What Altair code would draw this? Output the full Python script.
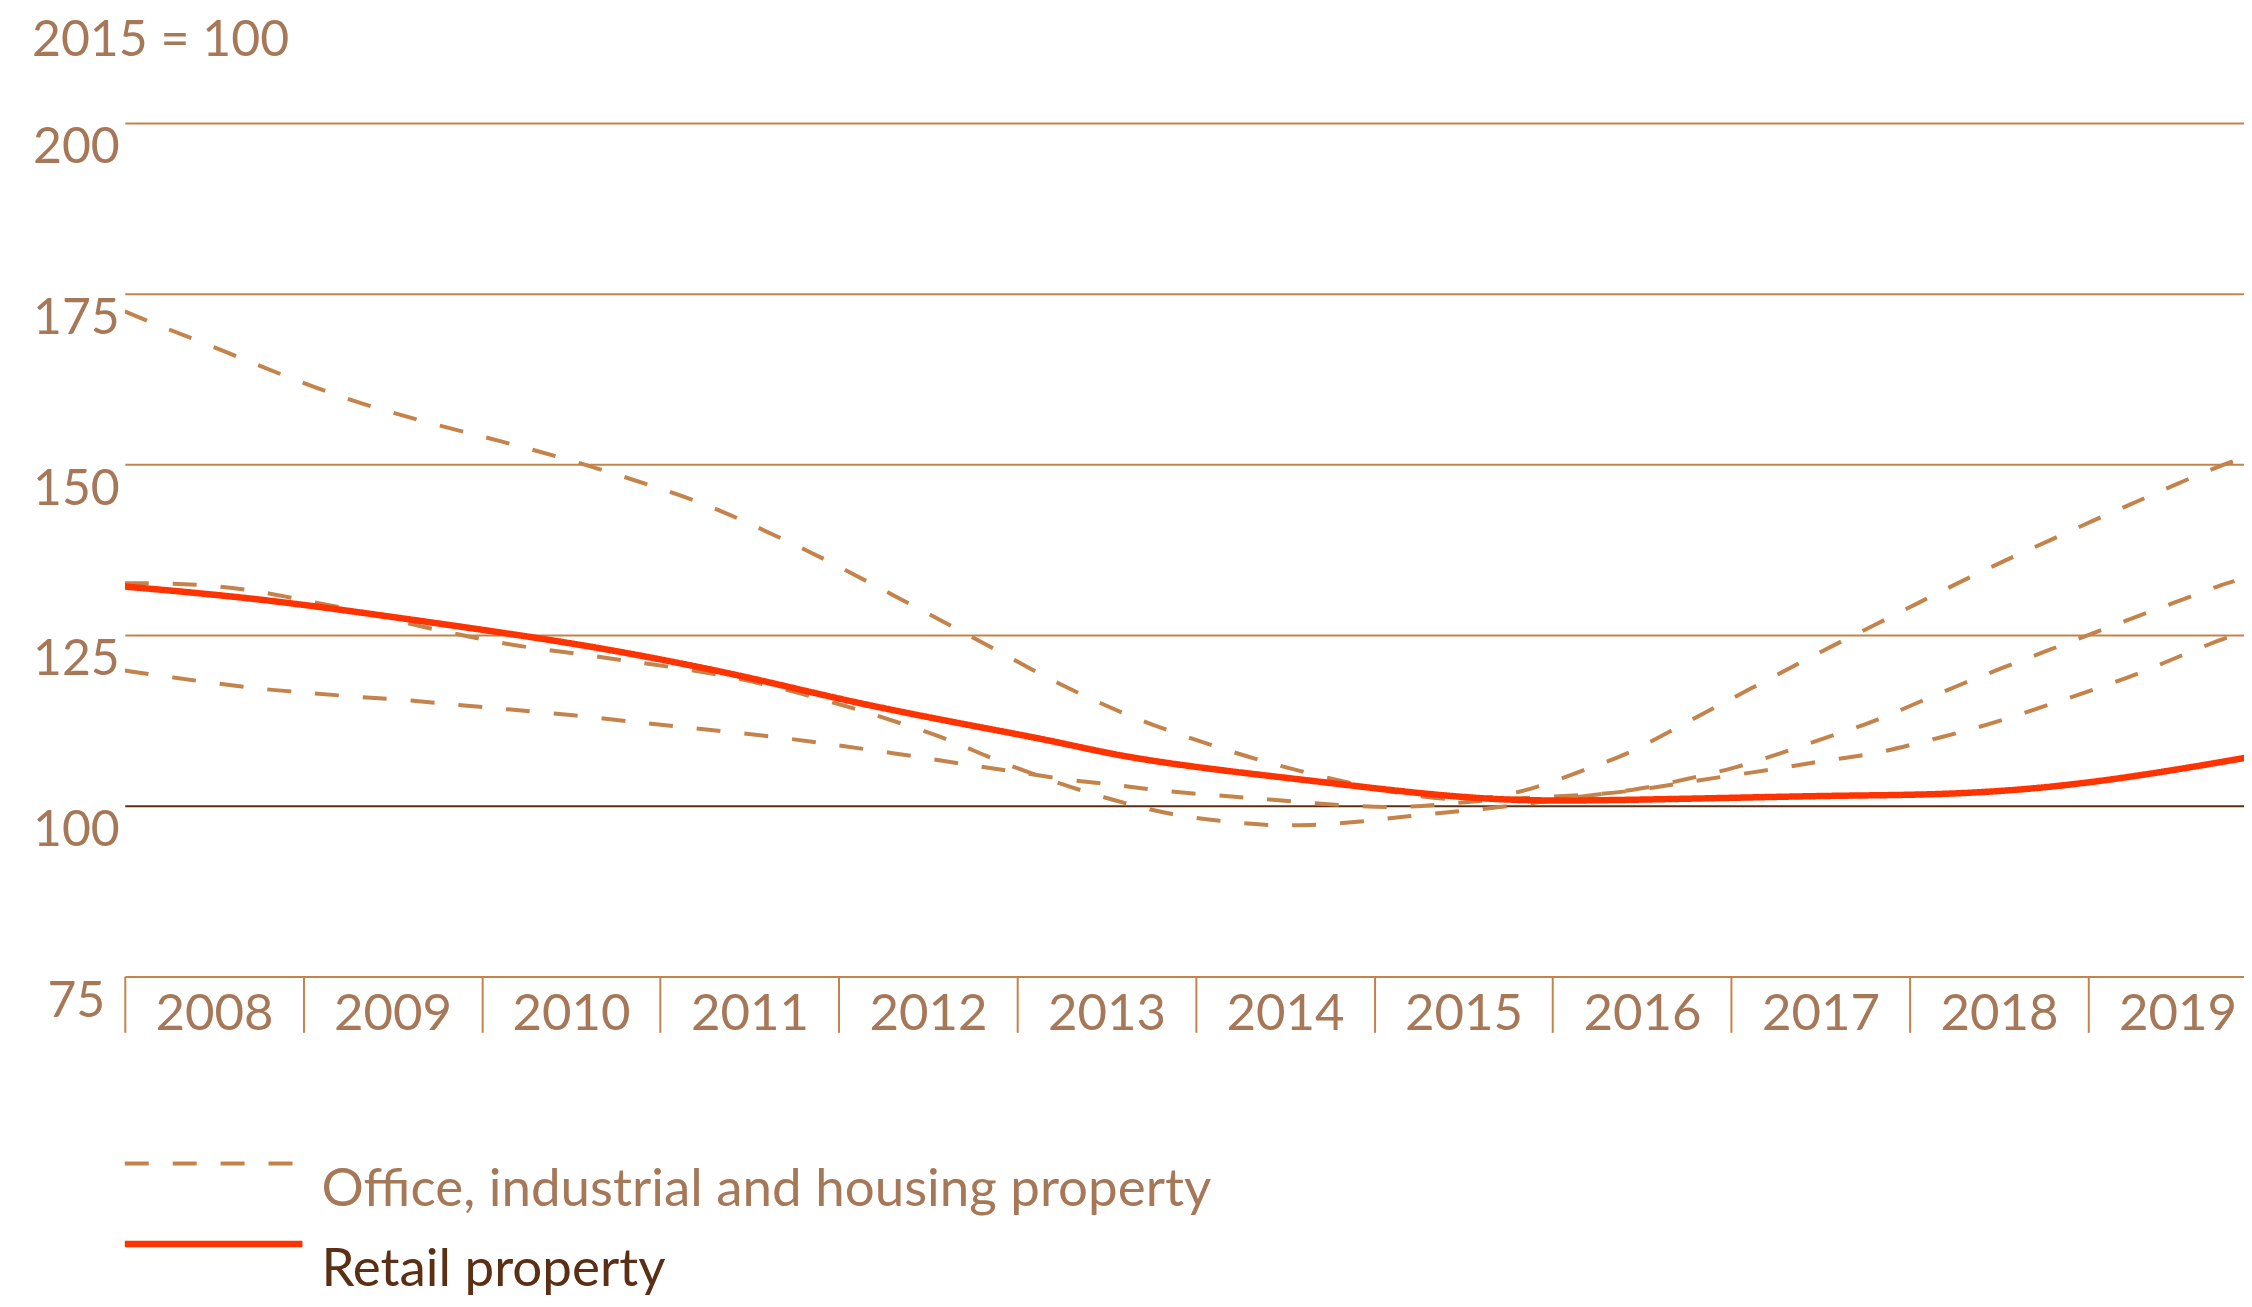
import altair as alt
import pandas as pd

OFFICE = "Office, industrial and housing property"
RETAIL = "Retail property"

year_ticks = list(range(2008, 2020))
value_ticks = [75, 100, 125, 150, 175, 200]

# Office / industrial / housing series (three dashed lines)
a_x = [2008.00, 2008.24, 2008.49, 2008.74, 2008.98, 2009.23, 2009.48, 2009.74, 2010.00, 2010.25,
       2010.51, 2010.77, 2011.02, 2011.27, 2011.51, 2011.75, 2011.99, 2012.22, 2012.46, 2012.69,
       2012.92, 2013.16, 2013.40, 2013.64, 2013.89, 2014.14, 2014.39, 2014.64, 2014.90, 2015.14,
       2015.43, 2015.68, 2015.91, 2016.17, 2016.41, 2016.65, 2016.88, 2017.12, 2017.36, 2017.58,
       2017.83, 2018.07, 2018.30, 2018.54, 2018.78, 2019.03, 2019.27, 2019.51, 2019.76, 2019.82]
a_v = [172.4, 169.8, 167.3, 164.6, 162.1, 159.7, 157.7, 155.8, 154.1, 152.4,
       150.5, 148.4, 146.3, 144.0, 141.2, 138.3, 135.2, 132.0, 128.7, 125.5,
       122.3, 118.8, 115.8, 113.0, 110.6, 108.4, 106.4, 104.7, 103.1, 101.8,
       100.7, 101.2, 102.6, 105.2, 107.4, 110.8, 114.0, 117.3, 120.6, 123.6,
       126.8, 130.0, 133.0, 136.0, 138.8, 141.8, 144.5, 147.3, 150.0, 150.5]

b_x = [2008.00, 2008.26, 2008.52, 2008.78, 2009.05, 2009.37, 2009.55, 2009.81, 2010.07, 2010.33,
       2010.59, 2010.84, 2011.10, 2011.37, 2011.62, 2011.88, 2012.13, 2012.37, 2012.63, 2012.81,
       2013.11, 2013.36, 2013.61, 2013.86, 2014.12, 2014.39, 2014.64, 2014.91, 2015.16, 2015.43,
       2015.69, 2016.03, 2016.23, 2016.49, 2016.75, 2017.02, 2017.27, 2017.52, 2017.77, 2018.01,
       2018.26, 2018.51, 2018.75, 2019.00, 2019.25, 2019.50, 2019.75, 2019.82]
b_v = [132.6, 132.6, 132.2, 131.3, 129.8, 128.3, 126.9, 125.4, 124.0, 122.9,
       122.1, 121.1, 120.2, 119.0, 117.6, 115.8, 113.9, 111.9, 109.6, 107.4,
       104.4, 102.2, 100.3, 98.7, 97.8, 97.1, 97.1, 97.6, 98.4, 99.1,
       99.7, 100.9, 101.6, 102.4, 103.9, 105.5, 107.6, 109.9, 112.0, 114.7,
       117.5, 120.1, 122.5, 125.0, 127.5, 129.9, 132.4, 132.9]

c_x = [2008.00, 2008.26, 2008.52, 2008.79, 2009.05, 2009.31, 2009.58, 2009.85, 2010.11, 2010.37,
       2010.65, 2010.91, 2011.17, 2011.43, 2011.70, 2011.96, 2012.22, 2012.49, 2012.74, 2012.99,
       2013.27, 2013.54, 2013.80, 2014.07, 2014.33, 2014.59, 2014.86, 2015.13, 2015.39, 2015.69,
       2016.24, 2016.49, 2016.74, 2016.99, 2017.26, 2017.51, 2017.77, 2018.02, 2018.28, 2018.53,
       2018.78, 2019.03, 2019.28, 2019.52, 2019.76, 2019.82]
c_v = [119.8, 118.8, 117.9, 117.0, 116.5, 115.9, 115.5, 114.8, 114.2, 113.6,
       112.9, 112.1, 111.4, 110.7, 109.9, 109.0, 108.0, 107.0, 105.9, 105.0,
       103.8, 103.1, 102.2, 101.6, 101.1, 100.5, 100.0, 99.7, 100.2, 101.0,
       101.6, 102.3, 103.4, 104.4, 105.4, 106.6, 107.4, 109.0, 110.7, 112.6,
       114.8, 117.0, 119.3, 122.0, 124.5, 125.0]

# Retail property (solid red line)
r_x = [2008.00, 2008.74, 2009.49, 2010.40, 2010.96, 2011.52, 2012.08, 2012.81, 2013.18, 2013.55,
       2013.93, 2014.30, 2014.67, 2015.21, 2015.66, 2016.04, 2016.52, 2017.08, 2017.62, 2018.18,
       2018.74, 2019.30, 2019.90]
r_v = [132.1, 130.4, 127.7, 124.3, 121.7, 118.7, 115.1, 111.4, 109.6, 107.4,
       105.9, 104.7, 103.6, 101.9, 100.9, 100.7, 100.9, 101.2, 101.5, 101.6,
       102.5, 104.4, 107.1]

rows = []
for sid, xs, vs, cat in [("A", a_x, a_v, OFFICE), ("B", b_x, b_v, OFFICE),
                         ("C", c_x, c_v, OFFICE), ("R", r_x, r_v, RETAIL)]:
    for x, v in zip(xs, vs):
        rows.append({"year": x, "index": v, "series": sid, "category": cat})
df = pd.DataFrame(rows)

TAN = "#c4834a"
TEXT = "#a67858"
DARK = "#5b2f14"
RED = "#ff3300"
FONT = "Lato"

x_enc = alt.X(
    "year:Q",
    scale=alt.Scale(domain=[2008, 2019.873], nice=False, zero=False),
    axis=alt.Axis(values=year_ticks, format="d", title=None, domain=False, grid=False,
                  ticks=True, tickSize=56, tickWidth=2, tickColor=TAN,
                  labelOffset=89.4, labelPadding=-42.5, labelBaseline="top",
                  labelAlign="center", labelFlush=False, labelOverlap=False,
                  labelFontSize=51, labelColor=TEXT, labelFont=FONT),
)
y_enc = alt.Y(
    "index:Q",
    scale=alt.Scale(domain=[75, 200], nice=False, zero=False),
    axis=alt.Axis(values=value_ticks, title=None, domain=False, ticks=False, tickSize=0,
                  grid=True,
                  gridColor=alt.condition("datum.value == 100", alt.value(DARK), alt.value(TAN)),
                  gridWidth=2, labelAlign="center", labelBaseline="top", labelPadding=49,
                  labelFontSize=50, labelColor=TEXT, labelFont=FONT),
)

legend = alt.Legend(
    title=None, orient="none", legendX=0, legendY=1016, direction="vertical",
    symbolType="M-4,0L4,0", symbolSize=1980, symbolOffset=62.5,
    labelFont=FONT, labelFontSize=53,
    labelBaseline="top", labelOffset=81.5, rowPadding=0.5, padding=0, labelLimit=0,
    labelColor={"expr": f"datum.label == '{RETAIL}' ? '{DARK}' : '{TEXT}'"},
)

cat_domain = [OFFICE, RETAIL]
color = alt.Color("category:N", scale=alt.Scale(domain=cat_domain, range=[TAN, RED]), legend=legend)
dash = alt.StrokeDash("category:N", scale=alt.Scale(domain=cat_domain, range=[[24, 24], [1, 0]]), legend=legend)
swidth = alt.StrokeWidth("category:N", scale=alt.Scale(domain=cat_domain, range=[4, 6.5]), legend=legend)

base = alt.Chart(df)
dashed = base.transform_filter(alt.datum.category == OFFICE).mark_line(
    interpolate="basis", clip=True
).encode(x=x_enc, y=y_enc, color=color, strokeDash=dash, strokeWidth=swidth, detail="series:N")
red = base.transform_filter(alt.datum.category == RETAIL).mark_line(
    interpolate="basis", clip=True
).encode(x=x_enc, y=y_enc, color=color, strokeDash=dash, strokeWidth=swidth, detail="series:N")

chart = alt.layer(dashed, red).properties(
    width=2123, height=855,
    padding={"left": 117, "top": 114, "right": 0, "bottom": 322},
    autosize=alt.AutoSizeParams(type="none"),
    view=alt.ViewBackground(stroke="transparent", strokeWidth=0),
    title=alt.TitleParams("2015 = 100", anchor="start", frame="group", dx=-93, offset=17,
                          baseline="alphabetic", font=FONT, fontSize=50, fontWeight="normal",
                          color=TEXT),
).configure_view(stroke="transparent", strokeWidth=0).configure(background="white", font=FONT)

chart.save("out.html", embed_options={"renderer": "svg", "actions": False})
